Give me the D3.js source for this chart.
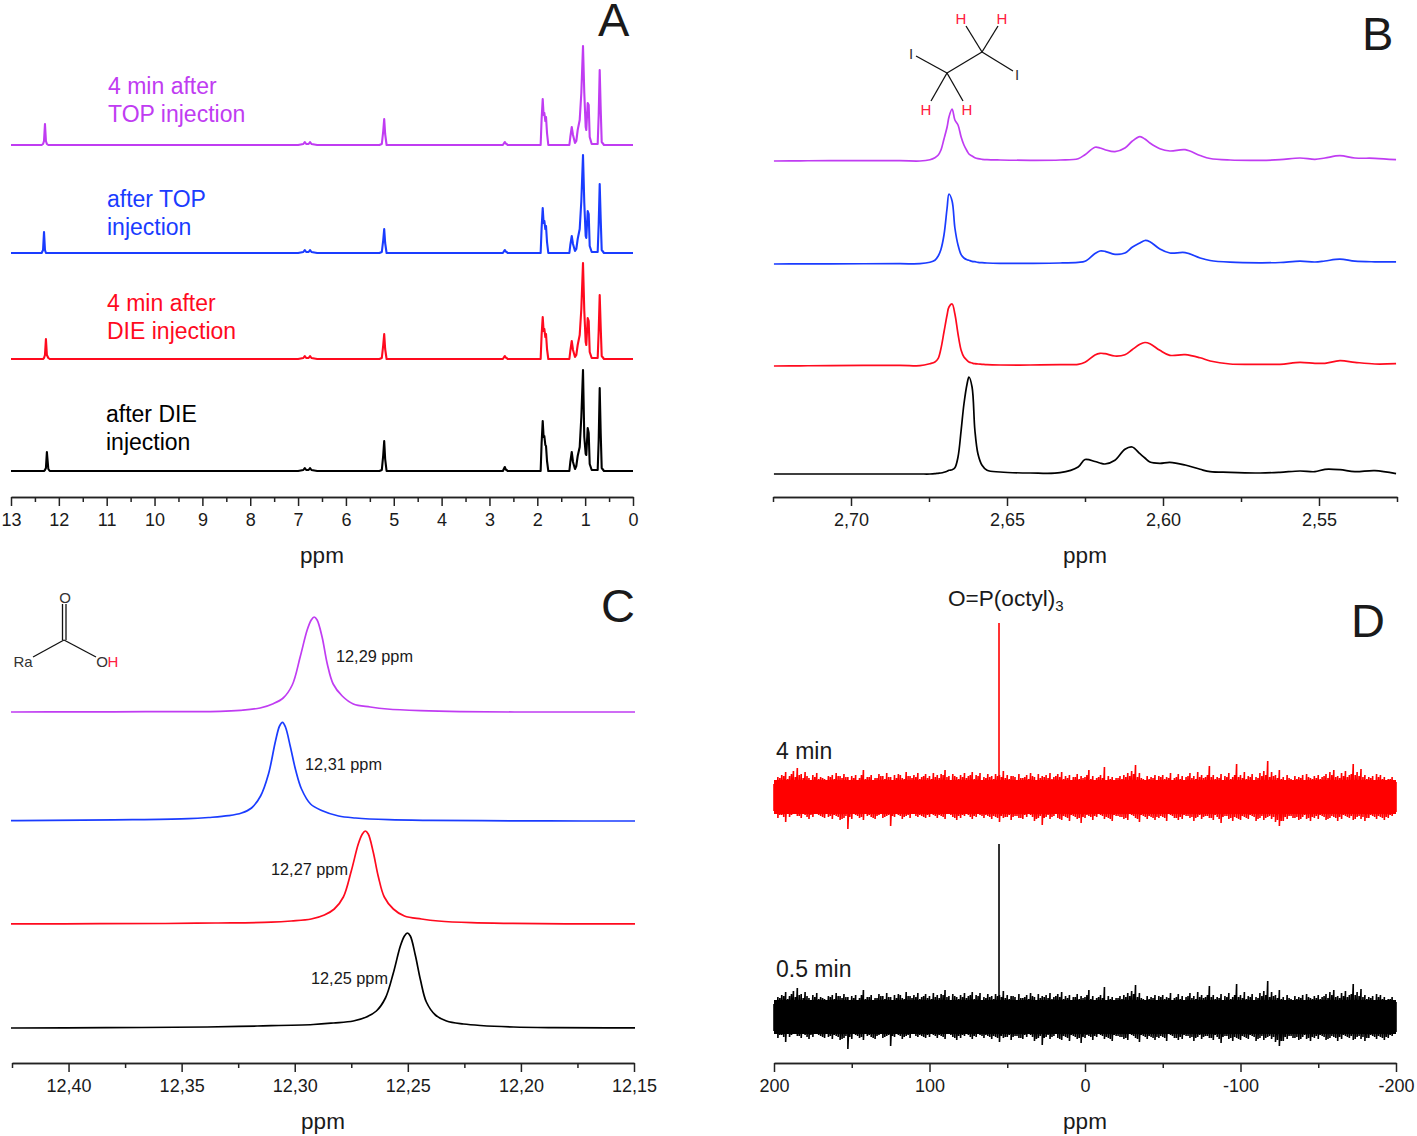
<!DOCTYPE html>
<html>
<head>
<meta charset="utf-8">
<script src="https://cdnjs.cloudflare.com/ajax/libs/d3/7.8.5/d3.min.js"></script>
<style>
html, body { margin: 0; padding: 0; background: #fff; }
text { font-family: "Liberation Sans", Arial, sans-serif; fill: #1a1a1a; }
</style>
</head>
<body>
<svg id="chart" width="1417" height="1136"></svg>
<script>
// panel A, 1H overview
const ppmA = [13, 12.36, 12.33, 12.31, 12.29, 12.27, 12.25, 12.22, 12.19,
  7.0, 6.89, 6.86, 6.83, 6.78, 6.75, 6.72, 6.6,
  5.30, 5.25, 5.22, 5.2, 5.18, 5.15,
  2.72, 2.68, 2.66, 2.64, 2.62,
  1.93, 1.91, 1.887, 1.868, 1.853, 1.832, 1.818, 1.797, 1.77,
  1.33, 1.31, 1.28, 1.254, 1.212, 1.185, 1.156, 1.114, 1.08, 1.045, 1.018, .989, .976, .947, .926, .905, .863,
  .738, .717, .696, .675, .654, .606, 0];
const aBlack = [0, 0, 0, 0, 1, 3, 19, 2, 0,
  0, 1, 3, 1, 1, 3, 1, 0,
  0, 1, 16, 30, 12, 0,
  0, 4, 1.5, 1, 0,
  0, 28, 50, 34, 35, 26, 25, 10, 0,
  0, 9, 19, 9, 2, 5, 15, 24, 54, 101, 34, 17, 16, 43, 38, 7, 1,
  1, 31, 83, 38, 3, 0, 0];
const aRed = [0, 0, 0, 1, 4, 20, 4, 1, 0,
  0, 1, 3, 1, 1, 3, 1, 0,
  0, 1, 14, 25, 10, 0,
  0, 3, 1.5, 1, 0,
  0, 24, 42, 28, 30, 22, 25, 10, 0,
  0, 8, 18, 9, 2, 4, 14, 24, 50, 96, 48, 17, 14, 41, 38, 7, 1,
  1, 28, 64, 32, 3, 0, 0];
const aBlue = [0, 0, 3, 21, 3, 0, 0, 0, 0,
  0, 1, 3, 1, 1, 3, 1, 0,
  0, 1, 13, 24, 10, 0,
  0, 3, 1.5, 1, 0,
  0, 25, 45, 30, 32, 24, 27, 11, 0,
  0, 8, 17, 9, 2, 4, 14, 24, 52, 98, 50, 17, 15, 42, 39, 7, 1,
  1, 29, 69, 34, 3, 0, 0];
const aPurple = [0, 0, 1, 4, 21, 4, 1, 0, 0,
  0, 1, 3, 1, 1, 3, 1, 0,
  0, 1, 14, 26, 11, 0,
  0, 3, 1.5, 1, 0,
  0, 26, 46, 30, 32, 24, 28, 12, 0,
  0, 8, 18, 10, 2, 4, 15, 25, 52, 99, 52, 18, 15, 42, 40, 8, 1,
  1, 30, 75, 36, 3, 0, 0];
const aOffsets = [26, 138, 244, 352];
const ticksA = [13, 12, 11, 10, 9, 8, 7, 6, 5, 4, 3, 2, 1, 0];
const minorA = [12.5, 11.5, 10.5, 9.5, 8.5, 7.5, 6.5, 5.5, 4.5, 3.5, 2.5, 1.5, 0.5];

// panel B, zoom on the 2.6 ppm region
const ppmB = [2.7247, 2.7163, 2.7067, 2.6843,
  2.6779, 2.6747, 2.6731, 2.6721, 2.6712, 2.6702, 2.6692, 2.6686, 2.6676, 2.6667, 2.6657, 2.6647, 2.6638, 2.6628, 2.6622, 2.6612, 2.6603, 2.6593, 2.6580, 2.6564,
  2.6522, 2.6426, 2.6330,
  2.6272, 2.6250, 2.6218, 2.6202, 2.6186, 2.6154, 2.6122, 2.6099, 2.6074, 2.6058, 2.6042, 2.6010, 2.5978, 2.5929, 2.5881, 2.5849,
  2.5785, 2.5689, 2.5625, 2.5561, 2.5513, 2.5481, 2.5433, 2.5385, 2.5321, 2.5253];
const bBlack = [0, 0, 0, 0,
  0, 0, .3, .7, 1, 1.7, 2.7, 3.7, 4.3, 6.3, 17, 43.7, 70, 90, 97, 87, 44, 20, 8.7, 3.7,
  2, 1, 1.3,
  7, 14.5, 12.5, 11, 10, 13.7, 24.7, 27, 20.3, 16, 12, 10.7, 11.7, 9, 4.7, 2.3,
  1.7, 1, 1.7, 3, 2.3, 4.7, 4.3, 2.3, 3.3, .3];
const bRed = [0, .2, .4, .7,
  .3, 2.3, 4, 7.3, 17, 34, 51, 59, 62, 52, 32, 15.7, 9, 5.7, 4, 3, 2.3, 2, 1.7, 1.3,
  1, 1, 1.3,
  1.7, 3.7, 11, 12.7, 12.3, 10, 11.3, 16.3, 21.7, 23.5, 22.3, 15.7, 10.7, 11.3, 8.2, 5,
  2, 1.7, 1.7, 3.7, 2.7, 2.7, 5.3, 3.7, 2, 2.3];
const bBlue = [0, .1, .2, .3,
  .3, 1.7, 3.7, 7.7, 14.3, 29, 56, 70, 63, 36, 19, 9.3, 6, 4.3, 3.7, 2.7, 2.3, 1.7, 1.3, 1,
  .7, .7, 1,
  1.7, 2.7, 10.5, 13, 12.7, 9.7, 11, 16.7, 21, 23.5, 22.3, 15, 11, 11.4, 6, 3.5,
  1.8, 1.2, 1.5, 2.8, 2, 3, 4.8, 2.8, 2.2, 2.2];
const bPurple = [0, .2, .3, .3,
  0, 1.3, 3.3, 5.7, 10.7, 22, 34, 44, 52, 41, 36, 24, 16, 10, 7, 5, 3.3, 2.3, 1.7, 1.3,
  1, .7, 1,
  2.3, 6.3, 13.7, 13, 11.3, 9.3, 13, 19.7, 24.3, 22, 18, 12.3, 10, 11.3, 5.5, 2.5,
  1, .7, 1.3, 3, 1.7, 3, 5.3, 3, 2.7, 1.3];
const bOffsets = [23, 131, 233, 336];
const ticksB = [2.70, 2.65, 2.60, 2.55];
const minorB = [2.725, 2.675, 2.625, 2.575, 2.525];

// panel C, COOH proton, ppm offsets from each peak centre
const dPpmC = [.177, .133, .0885, .0664, .0416, .0327, .0239, .0181, .0137, .0097, .0062, .0031, .0013, 0,
  -.0013, -.0035, -.0058, -.0084, -.0124, -.0173, -.0248, -.0323, -.0469, -.0646, -.0885, -.133, -.177];
const cBlack = [0, .3, 1, 2, 3.5, 5, 7, 11, 17, 30, 55, 82, 92, 95, 92, 73, 48, 26, 13, 7, 4, 2.5, 1, .4, .2, 0, 0];
const cRed = [0, .2, .5, 1, 1.8, 3, 5, 9, 15, 27, 53, 80, 90, 93, 90, 72, 47, 27, 15, 8, 5, 3, 1.3, .6, .2, 0, 0];
const cBlue = [0, .2, .8, 1.3, 2.3, 3.5, 5.3, 8, 13, 25, 47, 80, 95, 98.7, 94, 74, 51, 32, 17, 10.5, 5, 3, 1.3, .6, .3, 0, 0];
const cPurple = [0, 0, .2, .4, .7, 1.7, 4, 8.3, 14, 27, 55, 82, 92, 95, 92, 75, 48, 28, 16, 8, 5, 3, 1.3, .3, 0, 0, 0];
const cCentres = [12.2502, 12.2688, 12.3054, 12.2914];
const cOffsets = [35, 139, 242, 351];
const ticksC = [12.40, 12.35, 12.30, 12.25, 12.20, 12.15];
const minorC = [12.425, 12.375, 12.325, 12.275, 12.225, 12.175];
const cLabels = ["12,25 ppm", "12,27 ppm", "12,31 ppm", "12,29 ppm"];

// panel D, 31P noise read as upper and lower excursions, every 2.5 ppm plus the samples between
const noiseUp = [13, 20, 22, 25, 21, 26, 29, 23, 25, 19, 22, 24, 20, 18, 21, 22, 24, 21, 23, 20,
  21, 22, 19, 27, 20, 22, 19, 23, 21, 24, 20, 22, 23, 19, 25, 21, 22, 24, 20, 23,
  21, 24, 22, 23, 27, 21, 23, 20, 22, 24, 21, 25, 22, 24, 20, 23, 21, 23, 22, 26,
  22, 21, 20, 23, 19, 22, 24, 20, 23, 21, 22, 24, 20, 23, 25, 21, 22, 20, 23, 21,
  20, 27, 21, 19, 22, 30, 21, 20, 19, 21, 22, 24, 26, 32, 24, 18, 21, 20, 22, 21,
  22, 20, 24, 19, 23, 21, 20, 24, 21, 25, 22, 20, 31, 22, 20, 23, 21, 24, 20, 33,
  22, 25, 21, 23, 20, 24, 26, 36, 25, 22, 27, 20, 22, 18, 21, 20, 22, 23, 19, 21,
  22, 20, 23, 25, 27, 21, 24, 26, 22, 33, 25, 28, 22, 20, 21, 23, 22, 20, 18, 20, 15];
const noiseDown = [14, 21, 18, 25, 20, 17, 19, 21, 18, 22, 20, 17, 19, 21, 20, 22, 19, 23, 21, 32,
  22, 18, 21, 23, 19, 20, 22, 18, 21, 19, 29, 20, 18, 22, 19, 21, 17, 20, 19, 21,
  20, 18, 21, 19, 22, 17, 20, 23, 21, 19, 18, 22, 20, 18, 21, 19, 22, 20, 25, 21,
  20, 23, 19, 21, 22, 20, 18, 24, 21, 28, 20, 22, 19, 21, 23, 20, 24, 19, 22, 26,
  21, 19, 23, 20, 18, 22, 21, 24, 19, 20, 22, 23, 18, 21, 25, 19, 22, 20, 23, 21,
  20, 24, 18, 21, 23, 22, 19, 21, 24, 20, 22, 19, 21, 23, 20, 26, 19, 22, 24, 21,
  23, 20, 22, 19, 24, 21, 23, 20, 22, 25, 29, 24, 22, 19, 21, 23, 20, 22, 24, 21,
  22, 19, 23, 21, 20, 24, 22, 19, 21, 23, 20, 22, 24, 21, 19, 22, 20, 23, 21, 19, 15];
const noiseUpMid = [17, 19, 21, 18, 23, 20, 22, 19, 21, 17, 20, 18, 19, 16, 20, 18, 21, 19, 20, 17,
  19, 17, 22, 18, 20, 16, 19, 21, 18, 20, 17, 19, 22, 18, 21, 19, 20, 18, 21, 19,
  18, 20, 19, 22, 20, 17, 21, 18, 20, 19, 22, 18, 21, 17, 19, 20, 18, 21, 20, 19,
  18, 21, 17, 19, 20, 18, 21, 17, 19, 20, 19, 18, 21, 20, 18, 19, 17, 20, 18, 19,
  22, 18, 17, 20, 19, 17, 18, 16, 19, 18, 20, 21, 23, 20, 19, 17, 18, 19, 17, 20,
  18, 19, 17, 20, 18, 17, 21, 19, 18, 20, 19, 22, 20, 18, 19, 17, 20, 18, 22, 20,
  19, 18, 20, 17, 19, 21, 22, 20, 21, 19, 18, 17, 19, 16, 18, 19, 17, 20, 18, 19,
  18, 21, 19, 22, 20, 19, 21, 20, 23, 22, 21, 20, 18, 19, 17, 20, 18, 17, 18, 16];
const noiseDownMid = [16, 18, 20, 17, 18, 16, 19, 17, 20, 18, 16, 18, 20, 17, 19, 18, 20, 22, 19, 20,
  17, 19, 20, 17, 18, 21, 19, 17, 20, 18, 19, 16, 19, 20, 18, 17, 19, 18, 20, 18,
  17, 19, 18, 20, 16, 18, 21, 19, 18, 17, 20, 19, 17, 19, 18, 20, 19, 21, 19, 20,
  18, 20, 19, 21, 18, 17, 20, 22, 19, 21, 18, 20, 17, 22, 19, 21, 18, 20, 21, 20,
  18, 20, 19, 16, 19, 20, 22, 18, 19, 20, 21, 17, 19, 22, 18, 20, 19, 21, 20, 19,
  21, 17, 19, 21, 20, 18, 19, 20, 21, 18, 20, 19, 21, 18, 22, 20, 19, 21, 20, 22,
  19, 21, 18, 20, 22, 19, 21, 19, 20, 23, 24, 20, 19, 21, 20, 22, 18, 21, 20, 19,
  18, 20, 22, 19, 21, 20, 18, 20, 19, 22, 19, 20, 21, 18, 20, 19, 21, 20, 18, 17];
const ppmD0 = 200, ppmDStep = 2.5;
const noiseCore = 17;
const peakD = 55.3;
const dHeights = [173, 174];
const dOffsets = [46, 266];
const dColors = ["#000000", "#ff0000"];
const ticksD = [200, 100, 0, -100, -200];
const minorD = [150, 50, -50, -150];

const seriesColors = ["#000000", "#ff0a1e", "#1a3cff", "#c03cf2"];

const svg = d3.select("#chart");

const commaFmt = d => d3.format(".2f")(d).replace(".", ",");
const smooth = d3.curveCatmullRom.alpha(0.5);

// one spectrum panel: scales, clip and both tick layers
function makePanel(domain, xRange, axisY, ticks, minor, fmt, clipId) {
  const g = svg.append("g");
  const x = d3.scaleLinear().domain(domain).range(xRange);
  const y = d3.scaleLinear().domain([0, 600]).range([axisY, axisY - 600]);

  svg.append("clipPath").attr("id", clipId).append("rect")
    .attr("x", xRange[0] - 1).attr("y", axisY - 500)
    .attr("width", xRange[1] - xRange[0] + 2).attr("height", 500);

  const major = d3.axisBottom(x).tickValues(ticks).tickSize(9).tickSizeOuter(0).tickFormat(fmt);
  const small = d3.axisBottom(x).tickValues(minor).tickSize(5).tickSizeOuter(0).tickFormat("");
  const ax = g.append("g").attr("transform", `translate(0,${axisY})`).call(major);
  const ax2 = g.append("g").attr("transform", `translate(0,${axisY})`).call(small);
  [ax, ax2].forEach(a => {
    a.selectAll("path, line").attr("stroke", "#222").attr("stroke-width", 1.5);
    a.selectAll("text").attr("font-size", 18).attr("y", 16.5).attr("fill", "#1a1a1a");
  });

  g.append("text").attr("x", (xRange[0] + xRange[1]) / 2).attr("y", axisY + 66)
    .attr("text-anchor", "middle").attr("font-size", 22.5).text("ppm");

  return { g, x, y, clipId };
}

function drawSpectrum(p, xs, ys, offset, color, curve, width) {
  const line = d3.line()
    .x(d => p.x(d[0]))
    .y(d => p.y(d[1] + offset))
    .curve(curve);
  p.g.append("path")
    .attr("d", line(xs.map((v, i) => [v, ys[i]])))
    .attr("clip-path", `url(#${p.clipId})`)
    .attr("fill", "none")
    .attr("stroke", color)
    .attr("stroke-width", width)
    .attr("stroke-linejoin", "round");
}

// A
const panelA = makePanel([13, 0], [11, 633], 497, ticksA, minorA, d => d, "clipA");
[aBlack, aRed, aBlue, aPurple].forEach((s, i) =>
  drawSpectrum(panelA, ppmA, s, aOffsets[i], seriesColors[i], d3.curveLinear, 2.1));

// B
const panelB = makePanel([2.725, 2.525], [773, 1397], 497, ticksB, minorB, commaFmt, "clipB");
[bBlack, bRed, bBlue, bPurple].forEach((s, i) =>
  drawSpectrum(panelB, ppmB, s, bOffsets[i], seriesColors[i], smooth, 1.7));

// C
const panelC = makePanel([12.425, 12.15], [12, 634], 1063, ticksC, minorC, commaFmt, "clipC");
[cBlack, cRed, cBlue, cPurple].forEach((s, i) =>
  drawSpectrum(panelC, dPpmC.map(d => cCentres[i] + d), s, cOffsets[i], seriesColors[i], smooth, 1.7));

// D: zigzag between the excursions over a solid core
const noiseSamples = [];
noiseUp.forEach((u, i) => {
  noiseSamples.push([ppmD0 - i * ppmDStep, u, noiseDown[i]]);
  if (i < noiseUpMid.length) {
    noiseSamples.push([ppmD0 - (i + 0.5) * ppmDStep, noiseUpMid[i], noiseDownMid[i]]);
  }
});
const panelD = makePanel([200, -200], [774, 1396], 1063, ticksD, minorD, d => d, "clipD");
dOffsets.forEach((off, k) => {
  const zig = [];
  noiseSamples.forEach(s => { zig.push([s[0], off + s[1]]); zig.push([s[0], off - s[2]]); });
  const core = d3.area()
    .x(d => panelD.x(d[0]))
    .y0(panelD.y(off - noiseCore))
    .y1(panelD.y(off + noiseCore));
  const line = d3.line().x(d => panelD.x(d[0])).y(d => panelD.y(d[1]));
  panelD.g.append("path").attr("d", core(noiseSamples)).attr("fill", dColors[k]);
  panelD.g.append("path").attr("d", line(zig))
    .attr("fill", "none").attr("stroke", dColors[k]).attr("stroke-width", 1.6);
  panelD.g.append("line")
    .attr("x1", panelD.x(peakD)).attr("x2", panelD.x(peakD))
    .attr("y1", panelD.y(off)).attr("y2", panelD.y(off + dHeights[k]))
    .attr("stroke", dColors[k]).attr("stroke-width", 1.6);
});

// panel letters
[["A", 598, 36], ["B", 1362, 50], ["C", 601, 622], ["D", 1351, 637]].forEach(t => {
  svg.append("text").attr("x", t[1]).attr("y", t[2]).attr("font-size", 47).text(t[0]);
});

// labels in A
[["4 min after", 108, 94, 3], ["TOP injection", 108, 122, 3],
 ["after TOP", 107, 207, 2], ["injection", 107, 235, 2],
 ["4 min after", 107, 311, 1], ["DIE injection", 107, 339, 1],
 ["after DIE", 106, 422, 0], ["injection", 106, 450, 0]].forEach(t => {
  svg.append("text").attr("x", t[1]).attr("y", t[2]).attr("font-size", 23)
    .style("fill", seriesColors[t[3]]).text(t[0]);
});

// peak labels in C
[[311, 984], [271, 875], [305, 770], [336, 662]].forEach((t, i) => {
  svg.append("text").attr("x", t[0]).attr("y", t[1]).attr("font-size", 16.3).text(cLabels[i]);
});

// labels in D
const opLabel = svg.append("text").attr("x", 948).attr("y", 606).attr("font-size", 22.6);
opLabel.append("tspan").text("O=P(octyl)");
opLabel.append("tspan").attr("font-size", 15).attr("dy", 5).text("3");
svg.append("text").attr("x", 776).attr("y", 759).attr("font-size", 23).text("4 min");
svg.append("text").attr("x", 776).attr("y", 977).attr("font-size", 23).text("0.5 min");

// structures
function bonds(list) {
  list.forEach(b => {
    svg.append("line").attr("x1", b[0]).attr("y1", b[1]).attr("x2", b[2]).attr("y2", b[3])
      .attr("stroke", "#111").attr("stroke-width", 1.3);
  });
}
function atoms(list) {
  list.forEach(a => {
    svg.append("text").attr("x", a[0]).attr("y", a[1]).attr("font-size", 15)
      .attr("text-anchor", "middle").attr("dominant-baseline", "central")
      .style("fill", a[3]).text(a[2]);
  });
}
const atomRed = "#ff2040", atomGrey = "#333";
bonds([[947, 73, 982, 52], [947, 73, 931, 101], [947, 73, 963, 101], [982, 52, 966, 26],
  [982, 52, 998, 26], [947, 73, 916, 56], [982, 52, 1013, 71]]);
atoms([[961, 18, "H", atomRed], [1002, 18, "H", atomRed], [926, 109, "H", atomRed], [967, 109, "H", atomRed],
  [911, 53, "I", atomGrey], [1017, 74, "I", atomGrey]]);
bonds([[64, 640, 33, 657], [64, 640, 96, 657], [62.5, 640, 62.5, 604], [66, 640, 66, 604]]);
atoms([[65, 597, "O", atomGrey], [23, 661, "Ra", atomGrey], [102, 661, "O", atomGrey], [113, 661, "H", atomRed]]);
</script>
</body>
</html>
